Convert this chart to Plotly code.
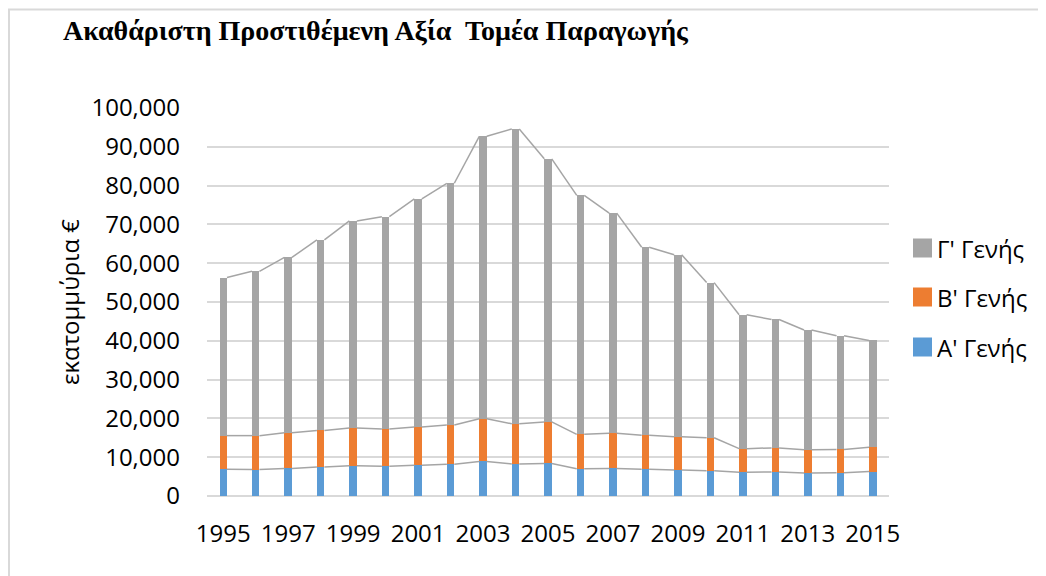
import plotly.graph_objects as go

years = list(range(1995, 2016))
a_gen = [6.9, 6.8, 7.1, 7.5, 7.8, 7.65, 7.9, 8.2, 8.9, 8.25, 8.4, 7.05, 7.1, 6.9, 6.7, 6.5, 6.1, 6.2, 5.9, 6.0, 6.3]
b_top = [15.56, 15.56, 16.3, 16.9, 17.5, 17.3, 17.8, 18.3, 19.9, 18.6, 19.1, 15.9, 16.2, 15.65, 15.3, 15.0, 12.2, 12.4, 11.95, 12.0, 12.55]
total = [56.3, 57.9, 61.5, 66.0, 70.9, 72.0, 76.6, 80.6, 92.7, 94.6, 86.9, 77.5, 72.9, 64.1, 62.2, 55.0, 46.7, 45.5, 42.8, 41.3, 40.1]

A = [round(v * 1000) for v in a_gen]
B = [round((b - a) * 1000) for a, b in zip(a_gen, b_top)]
C = [round((t - b) * 1000) for b, t in zip(b_top, total)]

names = ["Α' Γενής", "Β' Γενής", "Γ' Γενής"]
colors = ["#5B9BD5", "#ED7D31", "#A5A5A5"]
tick_years = years[::2]

BAR_W = 0.23
font_main = "Open Sans"

# page has an 8px body margin; layout pixel values below are page coordinates
OFF = 8
W, H = 1046 - OFF, 576 - OFF
L, R, T, Bm = 207 - OFF, 157, 108 - OFF, 80
PW, PH = W - L - R, H - T - Bm


def px_x(x):
    return (x - OFF - L) / PW


def px_y(y):
    return (H - Bm - (y - OFF)) / PH


fig = go.Figure()
for vals, nm, col in zip([A, B, C], names, colors):
    fig.add_trace(go.Bar(x=years, y=vals, name=nm, marker=dict(color=col, line=dict(width=0)),
                         width=BAR_W, showlegend=False))

# series lines connecting the stacked segment tops
cum = [0] * len(years)
for vals in [A, B, C]:
    cum = [c + v for c, v in zip(cum, vals)]
    xs, ys = [], []
    for i in range(len(years) - 1):
        xs += [years[i] + BAR_W / 2, years[i + 1] - BAR_W / 2, None]
        ys += [cum[i], cum[i + 1], None]
    fig.add_trace(go.Scatter(x=xs, y=ys, mode="lines", line=dict(color="#A5A5A5", width=1.5),
                             showlegend=False, hoverinfo="skip"))

# chart-area border (top and left visible) and a manual legend (Γ on top)
shapes = [
    dict(type="line", xref="paper", yref="paper", x0=px_x(8), x1=px_x(1046),
         y0=px_y(9.5), y1=px_y(9.5), line=dict(color="#D9D9D9", width=2)),
    dict(type="line", xref="paper", yref="paper", x0=px_x(9), x1=px_x(9),
         y0=px_y(9), y1=px_y(576), line=dict(color="#D9D9D9", width=2)),
]
annotations = []
leg_y = [347, 297, 248]
for nm, col, yc in zip(names, colors, leg_y):
    shapes.append(dict(type="rect", xref="paper", yref="paper", x0=px_x(913), x1=px_x(932),
                       y0=px_y(yc + 9.5), y1=px_y(yc - 9.5), fillcolor=col, line=dict(width=0)))
    annotations.append(dict(text=nm, xref="paper", yref="paper", x=px_x(935), y=px_y(yc),
                            xanchor="left", yanchor="middle", showarrow=False,
                            font=dict(family=font_main, size=24, color="black")))

fig.update_layout(
    width=W, height=H,
    barmode="stack",
    paper_bgcolor="white", plot_bgcolor="white",
    margin=dict(l=L, r=R, t=T, b=Bm, autoexpand=False),
    title=dict(text="Ακαθάριστη Προστιθέμενη Αξία  Τομέα Παραγωγής",
               font=dict(family="Liberation Serif", size=28, color="black", weight="bold"),
               x=(63 - OFF) / W, xanchor="left", y=1 - (30 - OFF) / H, yanchor="middle",
               xref="container", yref="container", pad=dict(l=0, r=0, t=0, b=0)),
    font=dict(family=font_main, size=24, color="#000000"),
    showlegend=False,
    xaxis=dict(type="linear", range=[1994.5, 2015.5], tickvals=tick_years,
               ticktext=[str(y) for y in tick_years], showgrid=False, zeroline=False,
               showline=False, ticks="", ticklabelstandoff=21, automargin=False),
    yaxis=dict(range=[0, 100000], tickvals=list(range(0, 100001, 10000)), tickformat=",",
               showgrid=True, gridcolor="#D9D9D9", gridwidth=1.5, zeroline=True,
               zerolinecolor="#D9D9D9", zerolinewidth=1.5, ticks="", ticklabelstandoff=26,
               automargin=False,
               title=dict(text="εκατομμύρια €", font=dict(size=24, family=font_main), standoff=5)),
    shapes=shapes,
    annotations=annotations,
)

fig.write_html("out.html")
